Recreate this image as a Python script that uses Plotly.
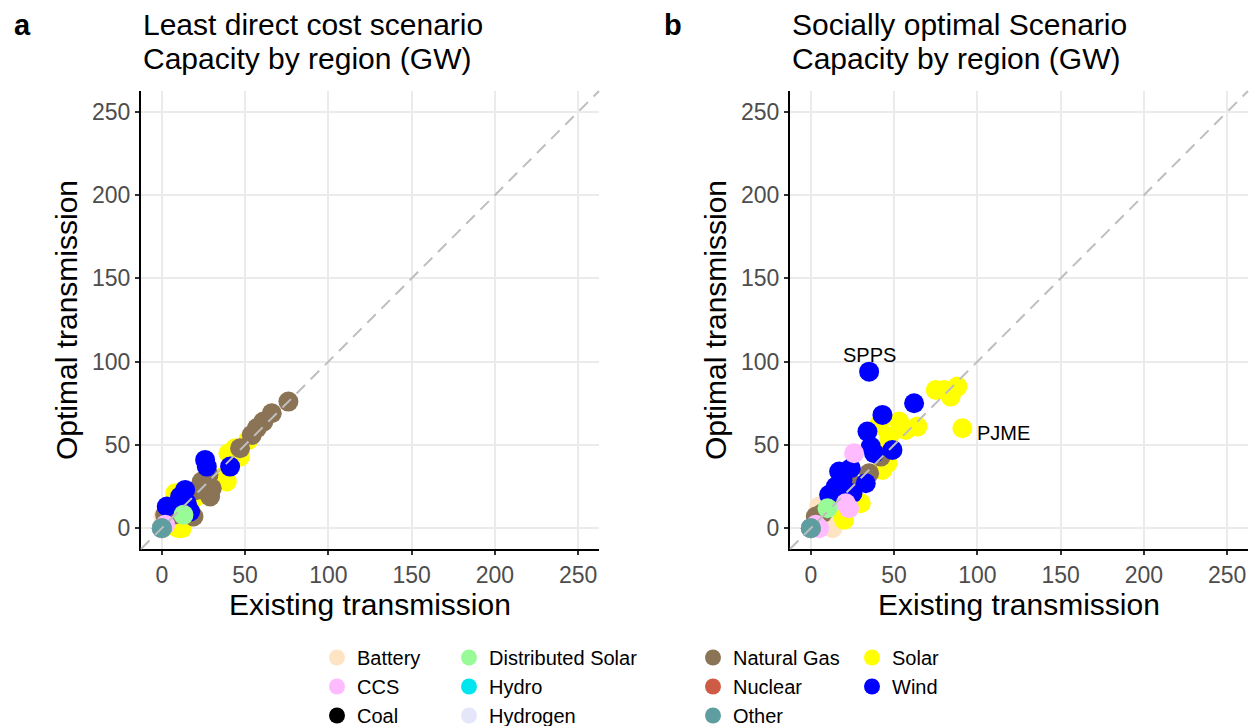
import plotly.graph_objects as go

# ---------------- data ----------------
TECHS = ["Battery", "CCS", "Coal", "Distributed Solar", "Hydro", "Hydrogen",
         "Natural Gas", "Nuclear", "Other", "Solar", "Wind"]
COLORS = ["#FFE4C4", "#FFBBFF", "#000000", "#98FB98", "#00E5EE", "#E6E6FA",
          "#8B7355", "#CD5B45", "#5F9EA0", "#FFFF00", "#0000FF"]

# Panel a: least direct cost scenario (tech, existing, optimal)
a_tech = (["Battery"] * 3 + ["CCS"] + ["Coal"] + ["Distributed Solar"] + ["Hydro"] * 2 +
          ["Hydrogen"] + ["Natural Gas"] * 14 + ["Nuclear"] + ["Other"] +
          ["Solar"] * 12 + ["Wind"] * 8)
a_existing = [1, 13, 8,
              2,
              0,
              13,
              35, 9,
              0,
              76, 66, 61, 57, 54, 47, 28, 24, 30, 29, 21, 19, 2, 7,
              6,
              0,
              52, 44, 40, 47, 37, 39, 21, 23, 8, 10, 12, 8,
              26, 27, 41, 11, 14, 3, 17, 15]
a_optimal = [7, 3, 2,
             2,
             0,
             8,
             30, 5,
             0,
             76, 69, 64, 60, 56, 48, 32, 28, 24, 19, 23, 7, 8, 8,
             7,
             0,
             53, 48, 45, 43, 31, 28, 19, 21, 21, 0, 0, 1,
             41, 37, 37, 19, 23, 13, 10, 15]

# Panel b: socially optimal scenario (tech, existing, optimal)
b_tech = (["Battery"] * 4 + ["CCS"] * 5 + ["Coal"] + ["Distributed Solar"] + ["Hydro"] +
          ["Hydrogen"] + ["Natural Gas"] * 5 + ["Nuclear"] + ["Other"] +
          ["Solar"] * 17 + ["Wind"] * 14)
b_existing = [5, 13, 7, 10,
              26, 21, 23, 5, 3,
              0,
              10,
              4,
              0,
              42, 35, 24, 3, 7,
              6,
              0,
              75, 80, 88, 84, 91, 53, 64, 57, 41, 47, 46, 43, 16, 30, 19, 20, 44,
              35, 62, 43, 34, 38, 49, 17, 24, 33, 11, 25, 19, 15, 36]
b_optimal = [13, 0, 4, 2,
             45, 15, 12, 0, 2,
             0,
             12,
             4,
             0,
             43, 33, 27, 7, 9,
             8,
             0,
             83, 83, 85, 79, 60, 64, 61, 59, 62, 55, 39, 35, 22, 15, 8, 5, 48,
             94, 75, 68, 58, 45, 47, 34, 36, 27, 20, 21, 29, 25, 49]

# labelled regions in panel b
LABELS = ["SPPS", "PJME"]
LABEL_X = [35, 91]
LABEL_Y = [94, 60]

AXIS_RANGE = [-12.5, 262.5]
TICKS = [0, 50, 100, 150, 200, 250]

# draw order (later on top) and legend placement
DRAW_ORDER = ["Hydro", "Nuclear", "Battery", "Solar", "Natural Gas", "Wind", "CCS",
              "Distributed Solar", "Coal", "Hydrogen", "Other"]
LEGEND_OF = {"Battery": "legend", "CCS": "legend", "Coal": "legend",
             "Distributed Solar": "legend2", "Hydro": "legend2", "Hydrogen": "legend2",
             "Natural Gas": "legend3", "Nuclear": "legend3", "Other": "legend3",
             "Solar": "legend4", "Wind": "legend4"}

FONT = "Liberation Sans, Arial, sans-serif"
W, H = 1254, 726

fig = go.Figure()

for tech in DRAW_ORDER:
    color = COLORS[TECHS.index(tech)]
    rank = TECHS.index(tech) + 1
    for panel, (tl, ex, op) in enumerate([(a_tech, a_existing, a_optimal),
                                          (b_tech, b_existing, b_optimal)]):
        xs = [e for t, e in zip(tl, ex) if t == tech]
        ys = [o for t, o in zip(tl, op) if t == tech]
        fig.add_trace(go.Scatter(
            x=xs, y=ys, mode="markers", name=tech,
            marker=dict(color=color, size=20, line=dict(width=0)),
            legendgroup=tech, showlegend=(panel == 0), legend=LEGEND_OF[tech],
            legendrank=rank,
            xaxis="x" if panel == 0 else "x2", yaxis="y" if panel == 0 else "y2",
            hoverinfo="skip"))

# ---------------- layout ----------------
def px_x(p):
    return p / W

def px_y(p):
    return 1 - p / H

ydom = [px_y(549), px_y(91)]
axis_common = dict(
    range=AXIS_RANGE, tickvals=TICKS, showline=True, linecolor="black", linewidth=2,
    ticks="outside", ticklen=4, tickwidth=2, tickcolor="#333333",
    showgrid=True, gridcolor="#EBEBEB", gridwidth=2, zeroline=False,
    tickfont=dict(family=FONT, size=23, color="#4D4D4D"), ticklabelstandoff=0,
    automargin=False,
)

fig.update_layout(
    width=W, height=H, autosize=False,
    margin=dict(l=0, r=0, t=0, b=0, autoexpand=False),
    paper_bgcolor="white", plot_bgcolor="white",
    font=dict(family=FONT, color="black"),
    xaxis=dict(domain=[px_x(141), px_x(599)], anchor="y",
               title=dict(text="Existing transmission", font=dict(size=30), standoff=4),
               **axis_common),
    yaxis=dict(domain=ydom, anchor="x",
               title=dict(text="Optimal transmission", font=dict(size=30), standoff=6),
               **axis_common),
    xaxis2=dict(domain=[px_x(790), px_x(1248)], anchor="y2",
                title=dict(text="Existing transmission", font=dict(size=30), standoff=4),
                **axis_common),
    yaxis2=dict(domain=ydom, anchor="x2",
                title=dict(text="Optimal transmission", font=dict(size=30), standoff=6),
                **axis_common),
)

leg_common = dict(orientation="v", yanchor="top", xanchor="left", y=px_y(638),
                  bgcolor="rgba(0,0,0,0)", borderwidth=0,
                  font=dict(family=FONT, size=20, color="black"),
                  itemsizing="trace", itemclick=False, itemdoubleclick=False,
                  tracegroupgap=0)
fig.update_layout(
    legend=dict(x=px_x(317), **leg_common),
    legend2=dict(x=px_x(449), **leg_common),
    legend3=dict(x=px_x(693), **leg_common),
    legend4=dict(x=px_x(852), **leg_common),
)

# diagonal y = x reference lines (drawn on top of points)
for xr, yr in [("x", "y"), ("x2", "y2")]:
    fig.add_shape(type="line", xref=f"{xr} domain", yref=f"{yr} domain",
                  x0=0, y0=0, x1=1, y1=1, layer="above",
                  line=dict(color="#BEBEBE", width=2, dash="12px,8px"))

# panel titles
titles = [("a", 12, "Least direct cost scenario", "Capacity by region (GW)", 141),
          ("b", 662, "Socially optimal Scenario", "Capacity by region (GW)", 790)]
for letter, lx, l1, l2, tx in titles:
    fig.add_annotation(text=f"<b>{letter}</b>", x=px_x(lx), y=px_y(25), xref="paper",
                       yref="paper", xanchor="left", yanchor="middle", showarrow=False,
                       font=dict(family=FONT, size=29, color="black"))
    fig.add_annotation(text=l1, x=px_x(tx), y=px_y(24), xref="paper", yref="paper",
                       xanchor="left", yanchor="middle", showarrow=False,
                       font=dict(family=FONT, size=30, color="black"))
    fig.add_annotation(text=l2, x=px_x(tx), y=px_y(58), xref="paper", yref="paper",
                       xanchor="left", yanchor="middle", showarrow=False,
                       font=dict(family=FONT, size=30, color="black"))

# point labels in panel b
for lab, lxv, lyv in zip(LABELS, LABEL_X, LABEL_Y):
    if lab == "SPPS":
        kw = dict(xanchor="center", yanchor="bottom", yshift=4)
    else:
        kw = dict(xanchor="left", yanchor="middle", xshift=13, yshift=-5)
    fig.add_annotation(text=lab, x=lxv, y=lyv, xref="x2", yref="y2", showarrow=False,
                       font=dict(family=FONT, size=20, color="black"), **kw)

# remove the browser's default 8px body margin so the figure fills the window
fig.write_html("out.html", config={"displayModeBar": False},
               post_script="document.body.style.margin='0';document.body.style.overflow='hidden';")
